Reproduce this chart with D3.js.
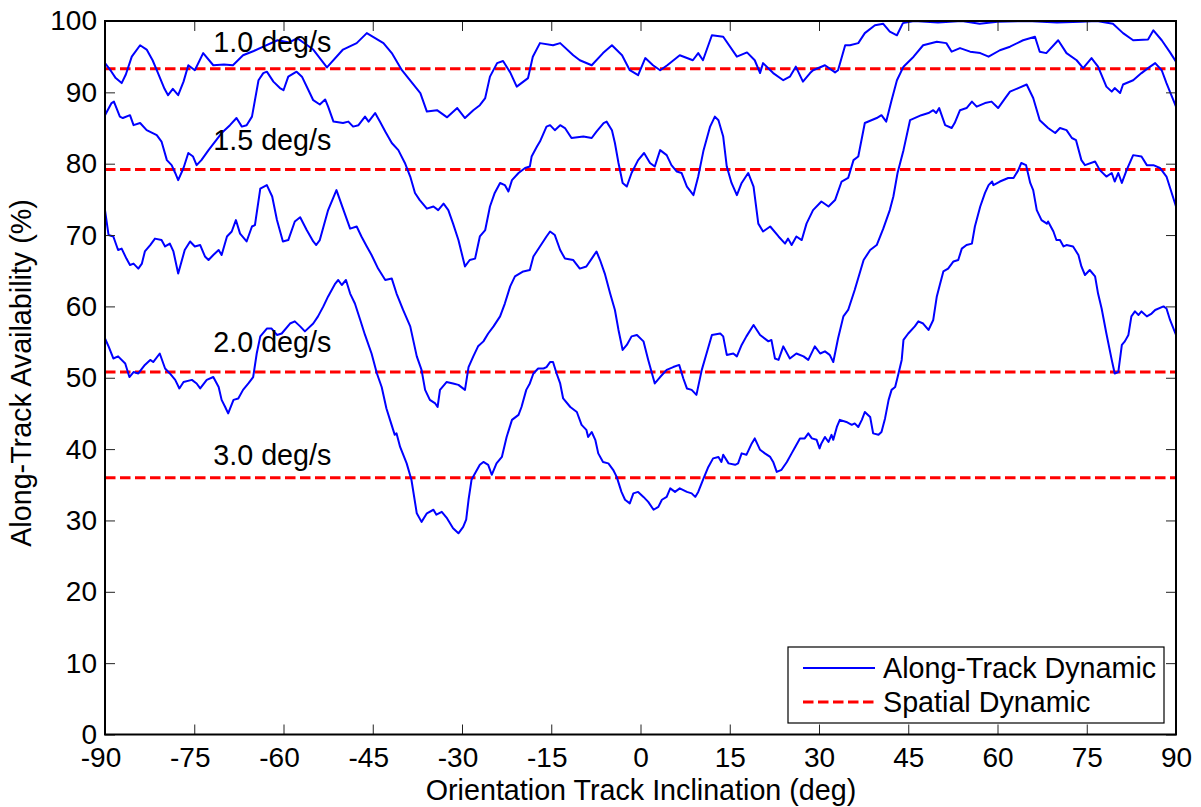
<!DOCTYPE html>
<html>
<head>
<meta charset="utf-8">
<script src="https://cdn.jsdelivr.net/npm/d3@7/dist/d3.min.js"></script>
<style>
  html, body { margin: 0; padding: 0; background: #fff; }
  svg { display: block; }
  text { font-family: "Liberation Sans", Arial, sans-serif; fill: #000; }
</style>
</head>
<body>
<svg id="chart" width="1201" height="807"></svg>
<script>
// ---------------- DATA ----------------
const xTicks = [-90, -75, -60, -45, -30, -15, 0, 15, 30, 45, 60, 75, 90];
const yTicks = [0, 10, 20, 30, 40, 50, 60, 70, 80, 90, 100];
const xTickLabels = ["-90","-75","-60","-45","-30","-15","0","15","30","45","60","75","90"];

const spatialValues = [93.3, 79.2, 50.8, 36.0];
const spatialLabels = ["1.0 deg/s", "1.5 deg/s", "2.0 deg/s", "3.0 deg/s"];

// Along-track dynamic, 1.0 deg/s
const xA = [-90,-89,-88.2,-87.2,-86.5,-85.5,-84.1,-83,-82,-81.3,-80,-79.4,-78.6,-77.7,-76.8,-76,-74.9,-73.5,-71.8,-70,-68.5,-66.8,-65,-63.4,-61,-59,-57.7,-55,-52.7,-50,-47.7,-46,-43.2,-41.8,-40.1,-37,-35.9,-34.2,-32.5,-30.8,-29.5,-28.1,-27,-26.1,-25.3,-24.1,-23.1,-21.9,-20.8,-18.9,-18.1,-16.9,-14.7,-13.5,-11.3,-10.2,-8.2,-6.3,-4.8,-3.1,-1.8,-0.4,0.8,2.1,3.3,4.5,6.6,8.8,9.7,10.5,12,13.9,16.2,17.9,19.2,20.1,20.6,22.3,24,25.1,26.1,27.3,28.5,29,31,32.7,33.2,34.4,35.2,36.6,37.7,39.4,40.8,41.9,43.1,44.1,46,50,54,57,60,65,70,74,76.7,79.4,81.1,82.8,85.3,86.2,87.6,89,90];
const yA = [94.1,93.0,92.0,91.3,92.5,95.0,96.6,96.0,94.5,93.1,90.5,89.6,90.5,89.6,91.5,93.8,93.1,95.5,93.8,93.9,93.8,95.2,95.8,96.4,97.3,97.0,97.6,96.0,93.5,96.0,96.9,98.3,96.9,95.5,93.1,89.9,87.3,87.5,86.5,87.8,86.4,87.5,88.2,89.2,92.2,94.1,94.4,92.8,90.8,92.0,95.0,96.9,96.6,96.9,95.2,94.5,93.8,95.5,96.6,95.2,93.1,92.4,94.8,93.8,93.1,93.8,95.2,94.5,95.5,94.5,98.0,97.8,95.0,95.6,94.5,92.7,94.1,92.7,91.7,92.2,93.6,91.5,92.7,93.1,93.8,92.8,93.1,96.6,96.6,96.9,98.3,99.4,99.6,98.5,98.0,99.7,100,99.8,100,99.6,99.9,100,99.8,99.9,100,99.6,98.3,97.3,97.4,98.7,97.3,95.6,94.3];

// Along-track dynamic, 1.5 deg/s
const xB = [-90,-88.9,-88.5,-87.5,-87,-85.8,-85.2,-84.1,-83,-81.3,-80.5,-79.6,-78.8,-78.2,-77.7,-76.8,-76,-75.2,-74.6,-73.8,-72.6,-71.5,-70.4,-69,-67.9,-67,-66.2,-65.3,-65.1,-64.2,-63.4,-62.8,-61.7,-60.6,-60,-59.2,-57.8,-56.9,-55.8,-55,-53.9,-53,-52.5,-51.6,-50,-49.1,-48.3,-47.4,-46.3,-45.7,-44.6,-43.8,-42.9,-41.8,-40.7,-39.6,-38.7,-37.9,-37.1,-35.9,-34.8,-34,-33.1,-32.3,-31.5,-30.6,-29.5,-28.7,-27.8,-27,-26.1,-25.3,-24.5,-23.6,-22.8,-22.2,-21.6,-20.5,-19.4,-18.6,-18.3,-17.4,-16.9,-15.8,-15.2,-14.4,-13.5,-12.7,-11.6,-9.6,-8.2,-7.4,-6.2,-5.7,-4.8,-4.3,-3.7,-3,-2.3,-1.5,-0.4,0.6,1.6,2.4,3.3,4.4,5.2,6.1,6.9,7.8,8.9,9.7,10.6,11.7,12.5,13.1,13.9,14.5,15.3,16.2,17,18.1,19,19.8,20.6,21.8,23.2,24.3,24.8,25.4,26.2,27.1,27.9,29,30.4,31.6,32.7,33.8,34.9,35.8,36.6,37.7,39.7,40.5,41.3,42.2,43.1,44.2,45.9,47.5,49.8,51.4,52.3,53.7,55.4,57.1,58.5,60.4,62.1,64.3,66.3,67.1,68.2,70.2,71.6,73.3,74.4,75.8,76.9,78.3,79.2,79.7,80.6,81.1,82.8,84.2,85.3,86.5,87.6,88.4,90];
const yB = [86.8,88.5,88.7,86.6,86.4,86.8,85.4,85.7,84.7,84.0,83.1,80.5,79.8,78.7,77.7,79.4,81.5,81.0,79.8,80.5,81.9,83.1,84.3,85.4,86.4,85.2,85.4,86.6,87.5,91.7,92.7,92.9,91.5,90.6,90.3,92.2,92.9,92.2,90.3,88.9,88.3,89.0,88.0,85.9,85.7,85.9,85.2,85.4,86.6,85.9,87.1,85.9,84.5,82.9,81.9,80.1,78.2,75.9,74.9,73.7,74.0,73.5,74.4,73.5,71.6,69.3,65.6,66.5,66.7,69.8,70.7,74.0,75.9,77.3,77.0,76.1,77.7,78.7,79.4,79.6,81.0,82.4,83.1,85.2,85.4,84.7,85.4,85.0,83.6,83.8,83.6,84.5,85.7,85.9,84.7,82.9,80.1,77.3,76.8,78.7,80.5,81.5,80.1,79.6,81.9,81.2,79.8,78.9,78.7,76.8,75.6,78.2,81.9,85.2,86.6,86.1,83.8,79.6,77.3,75.6,77.3,78.7,76.8,71.6,70.5,71.2,69.8,68.8,69.5,68.6,69.8,69.3,71.6,73.5,74.7,74.0,74.9,77.5,78.0,80.5,81.0,85.7,86.4,86.8,85.9,88.9,91.7,93.6,95.0,96.6,97.1,96.9,95.7,96.2,95.7,95.5,95.0,95.9,96.4,97.3,97.8,95.7,95.5,97.3,95.5,94.5,93.4,94.8,93.6,90.8,90.1,90.6,89.9,91.1,91.7,92.7,93.4,94.1,93.1,91.3,88.0];

// Along-track dynamic, 2.0 deg/s
const xC = [-90,-89.4,-88.6,-87.8,-87.2,-86.4,-85.8,-85.2,-84.4,-83.8,-83.3,-82.4,-81.6,-80.5,-79.9,-79.1,-78.5,-77.7,-76.6,-75.7,-74.9,-74,-73.2,-72.6,-71.8,-70.9,-70.4,-69.5,-68.7,-68,-67.3,-66.2,-65.3,-64.8,-63.9,-62.8,-61.9,-61.1,-60.1,-59.2,-58.1,-57.2,-56.1,-55,-54.5,-53.9,-52.5,-51.1,-50,-48.8,-47.7,-46.9,-46,-45.2,-44.1,-42.9,-41.8,-41,-39.9,-38.7,-37.6,-36.8,-36.2,-35.4,-34.5,-34.1,-33.7,-32.6,-31.5,-30.6,-29.5,-28.9,-28.1,-27.3,-26.4,-25.6,-24.7,-23.6,-22.8,-21.9,-21.1,-19.7,-18.6,-18,-16.9,-15.8,-15.2,-14.4,-13.5,-12.7,-11.3,-10.2,-9.1,-8.2,-7.4,-6.8,-6,-5.1,-4.3,-3.7,-3,-2.3,-1.5,-0.6,0.5,1.3,2.4,3.3,4.4,5.5,6.5,7.2,7.8,8.6,9.4,10.3,11.1,12,13.4,13.9,14.5,15.6,16.2,17,17.8,19,20.1,21.5,22,22.6,23.2,24,25.1,26.2,27.4,28.2,29.3,30.2,31,31.8,32.4,33.2,34.1,34.9,36,37.5,38.6,39.7,40.8,41.9,42.5,43.2,44.2,45.3,47.2,48.4,49.2,49.7,50.2,51.2,52.3,52.8,53.7,54.8,55.7,56.5,57.9,59,60.1,61.3,62.1,63.5,64.9,66,67.1,68.5,69.7,70.5,71.6,72.5,73.2,74.1,74.7,76.4,77.2,78.3,79.2,79.7,80.3,80.9,81.7,82.8,84.2,85.1,86.2,87.3,88.4,90];
const yC = [73.5,70.0,69.8,67.9,68.1,66.7,65.8,66.0,65.3,66.0,67.7,68.6,69.5,69.3,68.4,68.8,67.7,64.6,67.9,69.1,68.4,68.6,67.0,66.5,67.2,67.9,67.2,69.8,70.5,72.1,70.2,69.1,71.2,71.4,76.5,77.0,75.4,72.1,69.1,69.3,71.9,72.5,70.7,69.1,68.6,69.3,73.5,76.3,73.7,70.9,71.2,69.8,68.4,67.2,65.3,63.7,63.9,61.8,59.5,57.2,53.0,51.1,48.3,46.9,46.4,45.9,48.3,49.4,49.2,49.0,48.3,51.5,53.0,54.4,55.1,56.2,57.2,58.6,60.4,62.8,64.2,64.9,65.1,67.0,68.4,69.8,70.5,70.0,67.9,66.7,66.5,65.3,65.6,66.7,67.7,66.5,64.6,61.8,59.5,56.7,53.9,54.6,55.8,56.0,55.1,52.5,49.2,50.1,51.1,51.5,51.8,49.9,48.5,48.3,47.6,51.1,53.4,56.0,56.2,55.8,53.2,53.4,53.0,54.6,55.8,57.4,56.0,55.1,55.3,52.7,52.5,54.4,52.7,53.4,53.0,52.5,54.4,53.4,53.7,53.2,52.2,55.5,58.6,59.5,62.3,66.5,67.9,68.6,70.9,73.5,75.4,78.7,81.9,86.1,86.8,87.1,87.5,87.1,87.8,85.4,85.0,85.7,87.5,87.8,88.7,88.0,88.5,88.7,87.8,89.2,90.1,90.6,91.1,89.2,86.1,85.0,84.3,85.0,84.7,83.6,83.3,80.5,79.8,80.3,79.1,78.2,78.7,77.5,78.7,77.3,79.1,81.2,81.0,79.8,79.8,79.4,78.2,74.0];

// Along-track dynamic, 3.0 deg/s
const xD = [-90,-89.4,-88.6,-87.8,-86.6,-85.9,-85.2,-84.4,-83.3,-82.4,-81.9,-80.8,-79.9,-79.1,-78.2,-77.5,-76.8,-75.4,-74.6,-74,-72.9,-71.8,-70.9,-70.4,-69.8,-69.3,-68.4,-67.6,-66.8,-65.9,-65.1,-64.5,-63.9,-62.8,-62,-61.1,-60.3,-58.9,-58.1,-57.2,-56.4,-55,-54.2,-53.3,-52.5,-51.3,-50.8,-50.2,-49.5,-48.8,-48,-47.1,-46.3,-45.2,-44.3,-43.5,-42.7,-42.1,-41.3,-41,-40.4,-39.3,-38.5,-37.6,-36.8,-35.9,-34.8,-34.3,-33.4,-32.6,-31.5,-30.6,-29.8,-29.3,-28.9,-28.4,-27.8,-27,-26.4,-25.6,-25,-24.2,-23.3,-22.5,-21.6,-20.5,-20,-19.2,-18.6,-18,-17.2,-16.3,-15.8,-15.2,-14.7,-14.1,-13.5,-13,-11.8,-10.7,-9.9,-9.1,-8.8,-8.2,-7.6,-7.1,-6.3,-5.4,-4.6,-4,-3.2,-2.6,-1.8,-1.2,-0.4,0.5,1.3,2.2,3,3.6,4.4,5,5.8,6.6,7.8,8.6,9.2,9.7,10.6,11.4,12.2,13.1,13.6,13.9,14.8,15.9,16.4,17,17.8,18.7,19.2,20.1,20.9,21.8,22.3,22.9,23.7,24.6,25.4,26,26.8,27.6,28.2,28.8,29.6,30.1,30.4,31,31.6,32.1,32.4,33,33.5,34.6,35.5,36,36.6,37.2,37.7,38.6,39.1,40,40.5,41.1,41.7,42.2,42.8,43.3,43.9,44.2,45,46.1,46.7,47.5,48.4,49.2,49.8,50.3,50.9,51.7,52.6,53.4,54,54.8,55.7,56.2,57.1,57.9,58.5,59.1,59.3,60.4,61.8,62.7,63.5,64,64.8,65.5,66,66.6,67.4,68.3,68.5,69.4,69.9,70.5,71.1,71.6,72.7,73.6,74.1,74.7,75.5,76.4,76.9,77.5,78.3,79.2,79.7,80.3,80.9,81.4,82,82.5,83.1,83.7,84.2,85.1,85.9,86.5,87.9,88.4,89,90];
const yD = [55.5,54.4,52.7,53.0,52.0,50.1,50.8,50.6,51.8,52.5,52.2,53.4,51.3,50.6,49.7,48.5,49.4,49.7,49.2,48.5,49.7,50.1,48.7,46.9,45.9,45.0,46.9,47.1,48.3,49.2,50.1,53.4,55.8,56.9,56.9,56.0,56.2,57.6,57.9,57.2,56.5,57.6,58.6,60.0,61.4,63.2,63.7,63.0,63.7,61.8,60.4,58.1,56.0,53.4,50.6,48.7,45.7,44.1,42.0,42.2,40.3,38.0,35.7,31.0,29.8,31.0,31.5,30.8,31.2,30.4,28.9,28.2,29.1,30.1,32.9,35.7,36.6,37.8,38.2,37.8,36.4,38.0,38.9,41.7,44.1,44.8,45.9,48.3,49.2,50.6,51.3,51.3,51.5,52.2,52.2,50.6,49.2,47.1,45.9,45.2,43.4,42.7,41.7,42.4,41.3,39.4,38.2,38.0,37.1,36.1,34.0,32.9,32.4,33.8,34.0,33.3,32.6,31.5,31.9,32.9,33.3,34.5,34.0,34.5,34.0,33.8,33.3,34.0,35.9,37.5,38.7,38.9,38.2,39.2,38.0,37.8,38.0,39.4,39.2,40.8,41.5,39.9,39.4,38.9,38.2,36.8,37.1,38.2,39.4,40.3,41.5,41.5,42.2,41.5,41.3,40.1,40.8,41.7,41.0,42.0,41.3,43.1,44.1,43.8,43.4,43.6,43.1,44.1,45.2,44.5,42.2,42.0,42.4,44.3,46.9,48.3,48.7,50.4,52.5,55.3,56.2,57.2,57.9,57.6,56.7,58.1,61.4,63.0,64.9,65.3,66.3,66.5,68.1,68.6,68.8,71.2,74.0,75.9,77.0,77.5,77.0,77.5,78.0,78.0,79.1,80.1,79.8,77.3,76.3,73.5,72.1,71.6,71.9,70.5,69.3,69.3,68.4,68.6,68.4,67.2,65.6,64.4,65.1,64.2,61.8,59.7,56.2,52.5,50.6,50.8,54.6,55.1,56.0,58.6,59.3,58.8,59.3,58.6,59.0,59.5,60.0,59.7,58.1,56.0];

const along = [
  {x: xA, y: yA},
  {x: xB, y: yB},
  {x: xC, y: yC},
  {x: xD, y: yD}
];

const legendLabels = ["Along-Track Dynamic", "Spatial Dynamic"];
const xTitle = "Orientation Track Inclination (deg)";
const yTitle = "Along-Track Availability (%)";

// ---------------- LAYOUT ----------------
const L = 105, R = 1176, T = 21, B = 734.5;
const blue = "#0000ff", red = "#ff0000";
const FS_TICK = 28, FS = 28.7;
const annGap = [16.5, 19, 20, 13];   // px between label baseline and its dashed line

const svg = d3.select("#chart");
const x = d3.scaleLinear().domain([-90, 90]).range([L, R]);
const y = d3.scaleLinear().domain([0, 100]).range([B, T]);

svg.append("defs").append("clipPath").attr("id", "clip")
  .append("rect").attr("x", L).attr("y", T).attr("width", R - L).attr("height", B - T);

const plot = svg.append("g").attr("clip-path", "url(#clip)");

// spatial dynamic (red dashed)
plot.selectAll("line.spatial").data(spatialValues).enter().append("line")
  .attr("class", "spatial")
  .attr("x1", x(-90)).attr("x2", x(90))
  .attr("y1", d => y(d)).attr("y2", d => y(d))
  .attr("stroke", red).attr("stroke-width", 3)
  .attr("stroke-dasharray", "10.5,4.5");

// along-track dynamic (blue)
const line = d3.line().x(d => x(d[0])).y(d => y(d[1]));
along.forEach(s => {
  const pts = s.x.map((v, i) => [v, s.y[i]]);
  plot.append("path").datum(pts)
    .attr("d", line)
    .attr("fill", "none")
    .attr("stroke", blue)
    .attr("stroke-width", 2)
    .attr("stroke-linejoin", "round");
});

// annotations
svg.selectAll("text.ann").data(spatialLabels).enter().append("text")
  .attr("class", "ann")
  .attr("x", x(-71.8))
  .attr("y", (d, i) => y(spatialValues[i]) - annGap[i])
  .attr("font-size", FS)
  .text(d => d);

// axes
const gx = svg.append("g").attr("transform", `translate(0,${B})`)
  .call(d3.axisBottom(x).tickValues(xTicks).tickFormat((d, i) => xTickLabels[i])
    .tickSizeInner(-10).tickSizeOuter(0).tickPadding(13));
gx.selectAll(".tick text").attr("dx", d => d < 0 ? -4.5 : 0);
const gxt = svg.append("g").attr("transform", `translate(0,${T})`)
  .call(d3.axisTop(x).tickValues(xTicks).tickFormat("").tickSizeInner(-10).tickSizeOuter(0));
const gy = svg.append("g").attr("transform", `translate(${L},0)`)
  .call(d3.axisLeft(y).tickValues(yTicks).tickSizeInner(-10).tickSizeOuter(0).tickPadding(8));
const gyr = svg.append("g").attr("transform", `translate(${R},0)`)
  .call(d3.axisRight(y).tickValues(yTicks).tickFormat("").tickSizeInner(-10).tickSizeOuter(0));

[gx, gxt, gy, gyr].forEach(g => {
  g.select(".domain").remove();
  g.selectAll(".tick line").attr("stroke", "#222").attr("stroke-width", 1);
  g.selectAll(".tick text").attr("font-size", FS_TICK).attr("fill", "#000")
    .attr("font-family", "'Liberation Sans', Arial, sans-serif");
});

// frame
svg.append("rect").attr("x", L).attr("y", T).attr("width", R - L).attr("height", B - T)
  .attr("fill", "none").attr("stroke", "#000").attr("stroke-width", 2);

// axis titles
svg.append("text").attr("x", (L + R) / 2 + 0.5).attr("y", 800)
  .attr("text-anchor", "middle").attr("font-size", FS).text(xTitle);
svg.append("text").attr("transform", `translate(31,373) rotate(-90)`)
  .attr("text-anchor", "middle").attr("font-size", FS).text(yTitle);

// legend
const lg = svg.append("g");
lg.append("rect").attr("x", 788).attr("y", 647).attr("width", 376).attr("height", 76)
  .attr("fill", "#fff").attr("stroke", "#000").attr("stroke-width", 1.2);
const legendItems = [
  {label: legendLabels[0], color: blue, dash: null, w: 2, yy: 668},
  {label: legendLabels[1], color: red, dash: "10.5,4.5", w: 3, yy: 702}
];
legendItems.forEach(it => {
  lg.append("line").attr("x1", 803).attr("x2", 875).attr("y1", it.yy).attr("y2", it.yy)
    .attr("stroke", it.color).attr("stroke-width", it.w)
    .attr("stroke-dasharray", it.dash);
  lg.append("text").attr("x", 883).attr("y", it.yy + 9.5).attr("font-size", FS).text(it.label);
});
</script>
</body>
</html>
